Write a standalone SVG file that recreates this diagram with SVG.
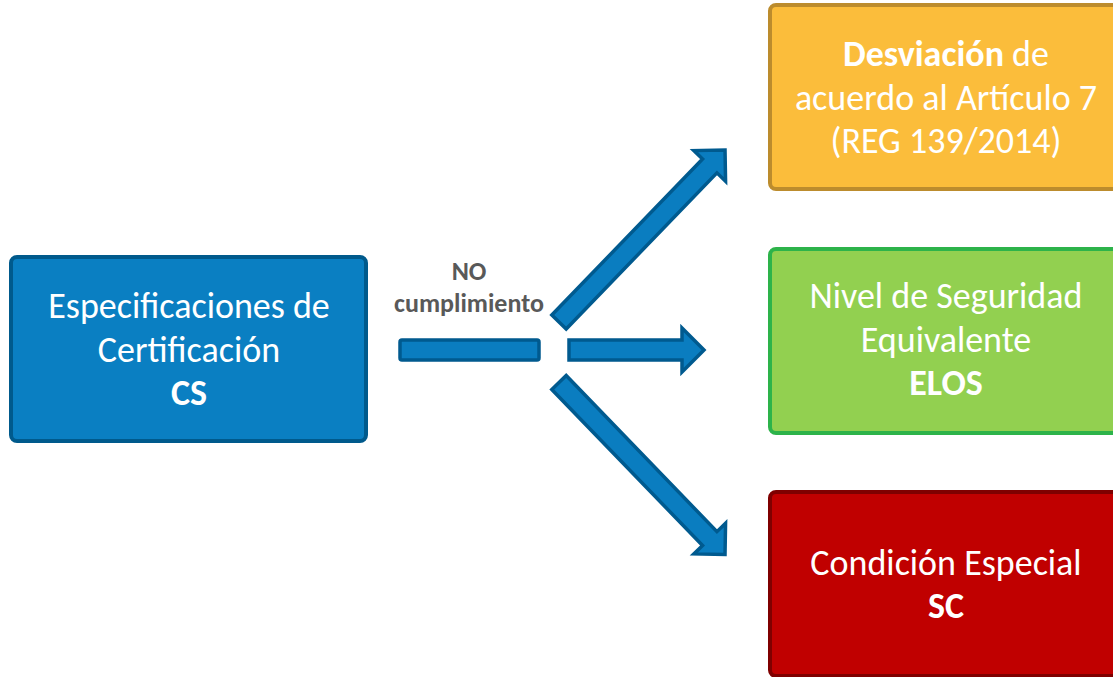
<svg xmlns="http://www.w3.org/2000/svg" width="1113" height="677" viewBox="0 0 1113 677">
<style>
.box{stroke-width:4}
.t{font-family:Carlito,"Liberation Sans",Arial,sans-serif;font-size:36px;fill:#fff;text-anchor:middle}
.b{font-weight:bold}
.lbl{font-family:Carlito,"Liberation Sans",Arial,sans-serif;font-size:26px;font-weight:bold;fill:#595959;text-anchor:middle}
.arr{fill:#0a7dc0;stroke:#005a8f;stroke-width:3.5;stroke-linejoin:miter}
</style>
<rect width="1113" height="677" fill="#fff"/>
<g id="cs">
<rect class="box" x="11" y="257" width="355" height="184" rx="6" fill="#0a7fc2" stroke="#005a8c"/>
<text class="t" x="189" y="318">Especificaciones de</text>
<text class="t" x="189" y="362">Certificación</text>
<text class="t b" x="189" y="405">CS</text>
</g>
<g id="desviacion">
<rect class="box" x="770" y="5" width="360" height="184" rx="6" fill="#fbbd3b" stroke="#bc8c2d"/>
<text class="t" x="946" y="66"><tspan class="b">Desviación</tspan> de</text>
<text class="t" x="946" y="110">acuerdo al Artículo 7</text>
<text class="t" x="946" y="153">(REG 139/2014)</text>
</g>
<g id="elos">
<rect class="box" x="770" y="249" width="360" height="184" rx="6" fill="#92d050" stroke="#2db34a"/>
<text class="t" x="946" y="308">Nivel de Seguridad</text>
<text class="t" x="946" y="352">Equivalente</text>
<text class="t b" x="946" y="395">ELOS</text>
</g>
<g id="sc">
<rect class="box" x="770" y="492" width="360" height="184" rx="6" fill="#c00000" stroke="#7f0000"/>
<text class="t" x="946" y="575">Condición Especial</text>
<text class="t b" x="946" y="618">SC</text>
</g>
<g id="label">
<text class="lbl" x="469" y="280">NO</text>
<text class="lbl" x="469" y="312">cumplimiento</text>
</g>
<g id="connectors">
<rect class="arr" x="400" y="340" width="139" height="20" rx="2"/>
<polygon class="arr" points="569,340 682,340 682,328 704,350 682,372 682,360 569,360"/>
<g transform="translate(559,322) rotate(-46)">
<polygon class="arr" points="0,-10 217,-10 217,-22 239,0 217,22 217,10 0,10"/>
</g>
<g transform="translate(559,382.5) rotate(46)">
<polygon class="arr" points="0,-10 217,-10 217,-22 239,0 217,22 217,10 0,10"/>
</g>
</g>
</svg>
